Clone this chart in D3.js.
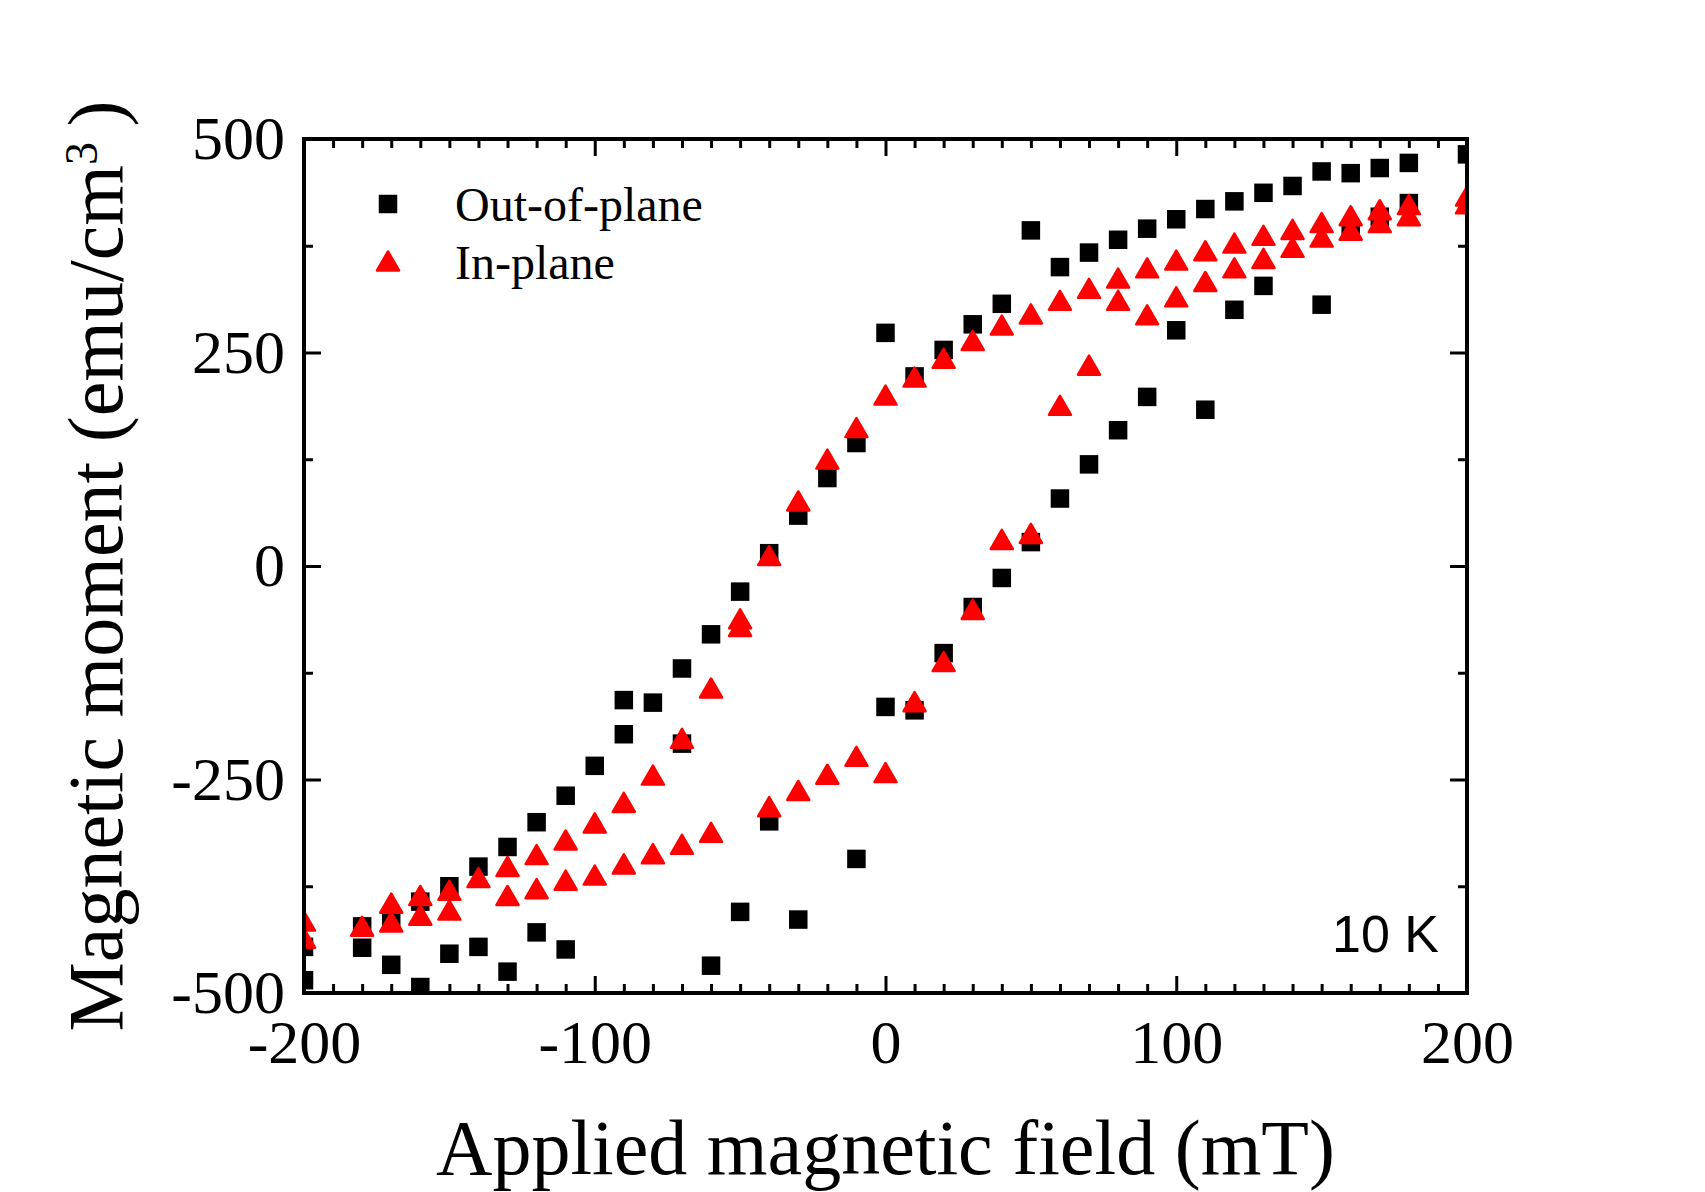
<!DOCTYPE html>
<html>
<head>
<meta charset="utf-8">
<script src="https://cdn.jsdelivr.net/npm/d3@7"></script>
<style>
  body { margin: 0; background: #fff; }
  svg { display: block; }
</style>
</head>
<body>
<div id="chart"></div>
<script>
// Hysteresis loop at 10 K (field in mT, moment in emu/cm3)

// Out-of-plane, descending field branch
const oopDownField = [200,180,170,160,150,140,130,120,110,100,90,80,70,60,50,40,30,20,10,0,
    -10,-20,-30,-40,-50,-60,-70,-70,-80,-90,-90,-100,-110,-120,-130,-140,-150,-160,-170,-180,-200];
const oopDownMoment = [482,472,466,460,462,445,437,427,418,406,395,382,367,350,393,307,283,253,222,273,
    144,103,59,15,-30,-80,-120,-208,-160,-157,-197,-234,-269,-300,-329,-352,-375,-393,-412,-422,-446];

// Out-of-plane, ascending field branch
const oopUpField = [-200,-180,-170,-160,-150,-140,-130,-120,-110,-60,-50,-40,-30,-10,0,10,20,30,40,50,
    60,70,80,90,100,110,120,130,150,160,170,180];
const oopUpMoment = [-485,-447,-467,-493,-454,-446,-475,-429,-449,-468,-405,-299,-414,-343,-165,-169,-102,-48,-14,28,
    79,119,159,198,276,183,300,328,306,393,409,425];

// In-plane, descending field branch
const ipDownField = [200,180,170,160,150,140,130,120,110,100,90,80,70,60,50,40,30,20,10,0,
    -10,-20,-30,-40,-50,-50,-60,-70,-80,-90,-100,-110,-120,-130,-140,-150,-160,-170,-180,-200];
const ipDownMoment = [432,422,416,409,401,393,386,377,368,357,348,336,324,310,294,281,263,242,220,199,
    161,124,75,11,-63,-72,-144,-203,-246,-278,-302,-322,-339,-353,-366,-381,-387,-396,-423,-417];

// In-plane, ascending field branch
const ipUpField = [-200,-170,-160,-150,-130,-120,-110,-100,-90,-80,-70,-60,-40,-30,-20,-10,0,10,20,30,
    40,50,60,70,80,90,100,110,120,130,140,150,160,170,180,200];
const ipUpMoment = [-437,-418,-410,-404,-387,-379,-369,-363,-350,-338,-327,-313,-283,-264,-245,-224,-243,-160,-113,-52,
    30,37,187,234,310,293,314,332,348,359,372,384,392,401,409,423];

const xTicks = [-200, -100, 0, 100, 200];
const yTicks = [-500, -250, 0, 250, 500];
const seriesNames = ["Out-of-plane", "In-plane"];

// helpers
function zipPoints(fx, my) {
    return fx.map((f, i) => ({ x: f, y: my[i] }));
}

let oopPoints = zipPoints(oopDownField, oopDownMoment).concat(zipPoints(oopUpField, oopUpMoment));
let ipPoints = zipPoints(ipDownField, ipDownMoment).concat(zipPoints(ipUpField, ipUpMoment));

const W = 1705, H = 1192;
const margin = { top: 139, right: 238, bottom: 199, left: 304 };
const width = W - margin.left - margin.right,
    height = H - margin.top - margin.bottom;

const serif = "'Liberation Serif', 'Times New Roman', Times, serif";

let svg = d3.select("#chart").append("svg")
    .attr("width", W)
    .attr("height", H);

let g = svg.append("g")
    .attr("transform", "translate(" + margin.left + "," + margin.top + ")");

let x = d3.scaleLinear().domain([-200, 200]).range([0, width]);
let y = d3.scaleLinear().domain([-500, 500]).range([height, 0]);

// clip so edge markers get cut by the frame like in the original
g.append("clipPath").attr("id", "plot-clip")
    .append("rect").attr("width", width).attr("height", height);

// Axes: major ticks (inward) + minor ticks
const majorLen = 17, minorLen = 9;
let xMinor = d3.range(-200, 201, 10).filter(v => v % 100 !== 0);
let yMinor = [-375, -125, 125, 375];

function styleAxis(sel) {
    sel.select(".domain").remove();
    sel.selectAll(".tick line").attr("stroke", "#000").attr("stroke-width", 3);
    sel.selectAll(".tick text")
        .attr("fill", "#000")
        .style("font-family", serif)
        .style("font-size", "62px");
}

g.append("g").attr("transform", "translate(0," + height + ")")
    .call(d3.axisBottom(x).tickValues(xTicks).tickSize(-majorLen).tickPadding(26).tickFormat(d => String(d)))
    .call(styleAxis);
g.append("g").attr("transform", "translate(0," + height + ")")
    .call(d3.axisBottom(x).tickValues(xMinor).tickSize(-minorLen).tickFormat(""))
    .call(styleAxis);
g.append("g")
    .call(d3.axisTop(x).tickValues(xTicks).tickSize(-majorLen).tickFormat(""))
    .call(styleAxis);
g.append("g")
    .call(d3.axisTop(x).tickValues(xMinor).tickSize(-minorLen).tickFormat(""))
    .call(styleAxis);

g.append("g")
    .call(d3.axisLeft(y).tickValues(yTicks).tickSize(-majorLen).tickPadding(19).tickFormat(d => String(d)))
    .call(styleAxis);
g.append("g")
    .call(d3.axisLeft(y).tickValues(yMinor).tickSize(-minorLen).tickFormat(""))
    .call(styleAxis);
g.append("g").attr("transform", "translate(" + width + ",0)")
    .call(d3.axisRight(y).tickValues(yTicks).tickSize(-majorLen).tickFormat(""))
    .call(styleAxis);
g.append("g").attr("transform", "translate(" + width + ",0)")
    .call(d3.axisRight(y).tickValues(yMinor).tickSize(-minorLen).tickFormat(""))
    .call(styleAxis);

// Markers
const sq = 18.5;
const triPath = "M0,-10.5L11,8.5L-11,8.5Z";

let marks = g.append("g").attr("clip-path", "url(#plot-clip)");

marks.selectAll(".sq")
    .data(oopPoints)
    .enter()
    .append("rect")
    .attr("class", "sq")
    .attr("x", d => x(d.x) - sq / 2)
    .attr("y", d => y(d.y) - sq / 2)
    .attr("width", sq)
    .attr("height", sq)
    .attr("fill", "#000");

marks.selectAll(".tri")
    .data(ipPoints)
    .enter()
    .append("path")
    .attr("class", "tri")
    .attr("d", triPath)
    .attr("transform", d => "translate(" + x(d.x) + "," + y(d.y) + ")")
    .attr("fill", "#ff0000")
    .attr("stroke", "#ff0000")
    .attr("stroke-width", 2.5)
    .attr("stroke-linejoin", "round");

// Frame
g.append("rect")
    .attr("width", width)
    .attr("height", height)
    .attr("fill", "none")
    .attr("stroke", "#000")
    .attr("stroke-width", 4);

// Legend
let legend = g.append("g").attr("transform", "translate(" + (388 - margin.left) + "," + (204 - margin.top) + ")");

legend.append("rect")
    .attr("x", -sq / 2).attr("y", -sq / 2)
    .attr("width", sq).attr("height", sq)
    .attr("fill", "#000");
legend.append("path")
    .attr("d", triPath)
    .attr("transform", "translate(0,58)")
    .attr("fill", "#ff0000")
    .attr("stroke", "#ff0000")
    .attr("stroke-width", 2.5)
    .attr("stroke-linejoin", "round");

seriesNames.forEach(function (name, i) {
    legend.append("text")
        .attr("x", 67)
        .attr("y", 17 + i * 58)
        .text(name)
        .style("font-family", serif)
        .style("font-size", "48px")
        .attr("fill", "#000");
});

// Temperature label
g.append("text")
    .attr("x", 1439 - margin.left)
    .attr("y", 952 - margin.top)
    .attr("text-anchor", "end")
    .text("10 K")
    .style("font-family", "'Liberation Sans', Arial, Helvetica, sans-serif")
    .style("font-size", "52px")
    .attr("fill", "#000");

// Axis titles
svg.append("text")
    .attr("x", margin.left + width / 2)
    .attr("y", 1174)
    .attr("text-anchor", "middle")
    .text("Applied magnetic field (mT)")
    .style("font-family", serif)
    .style("font-size", "78px")
    .attr("fill", "#000");

let yTitle = svg.append("text")
    .attr("transform", "translate(122," + (margin.top + height / 2) + ") rotate(-90)")
    .attr("text-anchor", "middle")
    .style("font-family", serif)
    .style("font-size", "78px")
    .attr("fill", "#000");
yTitle.append("tspan").text("Magnetic moment (emu/cm");
yTitle.append("tspan").attr("baseline-shift", "super").style("font-size", "46px").text("3");
yTitle.append("tspan").text("\u2009)");
</script>
</body>
</html>
